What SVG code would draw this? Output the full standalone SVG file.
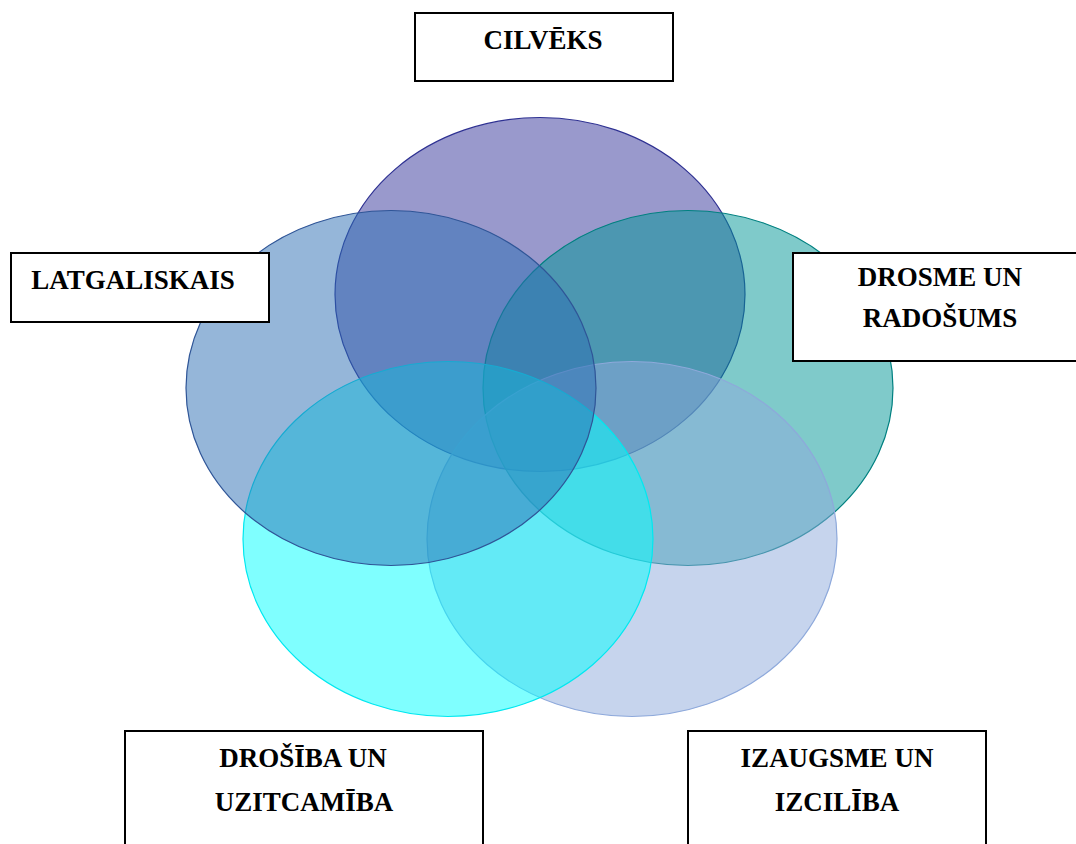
<svg xmlns="http://www.w3.org/2000/svg" width="1076" height="844" viewBox="0 0 1076 844">
<style>
.box{fill:#fff;stroke:#000;stroke-width:2}
.t{font-family:"Liberation Serif","Times New Roman",serif;font-weight:bold;font-size:27px;fill:#000;text-anchor:middle}
.e{stroke-width:1.2}
</style>
<rect width="1076" height="844" fill="#fff"/>
<g id="circles">
<ellipse id="c-purple" class="e" cx="540" cy="294.5" rx="205" ry="177" fill="#333399" fill-opacity="0.5" stroke="#2E3192"/>
<ellipse id="c-teal" class="e" cx="688" cy="388" rx="205" ry="177.5" fill="#009595" fill-opacity="0.5" stroke="#008080"/>
<ellipse id="c-lightblue" class="e" cx="632" cy="539" rx="205" ry="177.5" fill="#8EA9DB" fill-opacity="0.5" stroke="#8EA9DB"/>
<ellipse id="c-cyan" class="e" cx="448" cy="539" rx="205" ry="177.5" fill="#00FFFF" fill-opacity="0.5" stroke="#00E8F0"/>
<ellipse id="c-blue" class="e" cx="391" cy="388" rx="205" ry="177.5" fill="#2B6DB3" fill-opacity="0.5" stroke="#2F5597"/>
</g>
<g id="connectors"></g>
<g id="n-cilveks">
<rect class="box" x="415" y="13" width="258" height="68"/>
<text class="t" x="543" y="49">CILVĒKS</text>
</g>
<g id="n-latgaliskais">
<rect class="box" x="11" y="253" width="258" height="69"/>
<text class="t" x="133" y="289">LATGALISKAIS</text>
</g>
<g id="n-drosme">
<rect class="box" x="793" y="253" width="290" height="108"/>
<text class="t" x="940" y="286">DROSME UN</text>
<text class="t" x="940" y="327">RADOŠUMS</text>
</g>
<g id="n-drosiba">
<rect class="box" x="125" y="731" width="358" height="120"/>
<text class="t" x="303" y="767">DROŠĪBA UN</text>
<text class="t" x="304" y="811">UZITCAMĪBA</text>
</g>
<g id="n-izaugsme">
<rect class="box" x="688" y="731" width="298" height="120"/>
<text class="t" x="837" y="767">IZAUGSME UN</text>
<text class="t" x="837" y="811">IZCILĪBA</text>
</g>
</svg>
